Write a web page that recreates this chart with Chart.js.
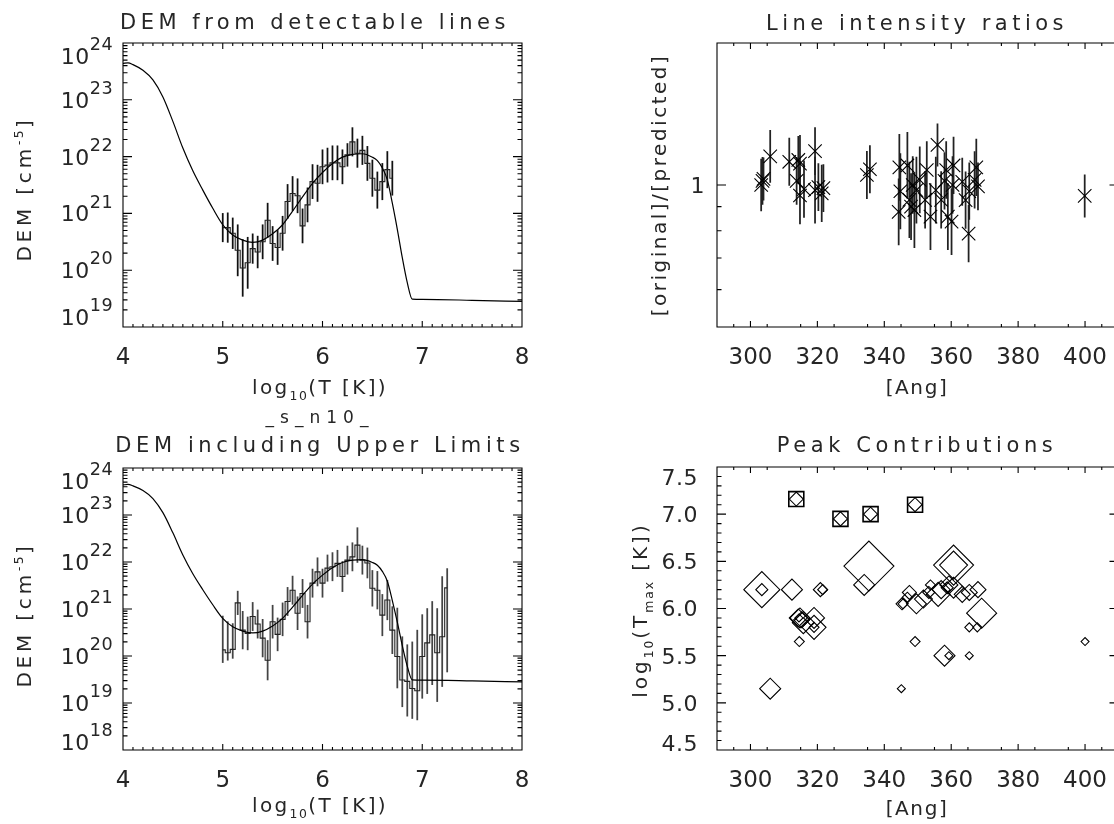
<!DOCTYPE html>
<html>
<head>
<meta charset="utf-8">
<script src="https://cdn.jsdelivr.net/npm/chart.js@4.4.1/dist/chart.umd.min.js"></script>
<style>
  html, body { margin: 0; padding: 0; background: #fff; overflow: hidden; }
  body { width: 1114px; height: 824px; position: relative; }
  canvas { position: absolute; }
</style>
</head>
<body>
<canvas id="c1" style="left:0;top:0"></canvas>
<canvas id="c2" style="left:560px;top:0"></canvas>
<canvas id="c3" style="left:0;top:405px"></canvas>
<canvas id="c4" style="left:560px;top:405px"></canvas>
<script>
const FONT = "'DejaVu Sans', sans-serif";
const INK = '#262626';

// DEM fit curve: log10 T, log10 DEM
const fitT = [4.00, 4.05, 4.10, 4.20, 4.30, 4.40, 4.50, 4.60, 4.70, 4.80, 4.90, 5.00, 5.10, 5.20, 5.30, 5.40, 5.50, 5.60, 5.70, 5.80,
  5.90, 6.00, 6.10, 6.20, 6.30, 6.40, 6.50, 6.55, 6.60, 6.65, 6.70, 6.75, 6.80, 6.85, 6.90, 7.00, 7.50, 8.00];
const fitDem = [23.64, 23.65, 23.62, 23.52, 23.35, 23.05, 22.62, 22.15, 21.75, 21.41, 21.09, 20.80, 20.62, 20.53, 20.49, 20.53, 20.64, 20.80, 21.04, 21.29,
  21.53, 21.72, 21.88, 21.99, 22.04, 22.05, 21.99, 21.93, 21.80, 21.59, 21.18, 20.72, 20.22, 19.78, 19.49, 19.485, 19.47, 19.45];

// DEM from detectable lines (histogram + error in dex)
const binT1 = [5.00, 5.05, 5.10, 5.15, 5.20, 5.25, 5.30, 5.35, 5.40, 5.45, 5.50, 5.55, 5.60, 5.65, 5.70, 5.75, 5.80, 5.85,
  5.90, 5.95, 6.00, 6.05, 6.10, 6.15, 6.20, 6.25, 6.30, 6.35, 6.40, 6.45, 6.50, 6.55, 6.60, 6.65, 6.70];
const dem1 = [20.75, 20.75, 20.65, 20.35, 20.04, 20.13, 20.38, 20.32, 20.50, 20.88, 20.47, 20.40, 20.65, 21.21, 21.35, 21.31, 20.78, 21.15,
  21.56, 21.53, 21.82, 21.85, 21.89, 21.89, 21.82, 22.03, 22.26, 22.06, 22.11, 21.88, 21.62, 21.41, 21.56, 21.77, 21.62];
const err1 = [0.25, 0.26, 0.27, 0.45, 0.5, 0.45, 0.26, 0.28, 0.3, 0.3, 0.3, 0.3, 0.3, 0.3, 0.3, 0.3, 0.3, 0.3,
  0.3, 0.32, 0.3, 0.3, 0.3, 0.3, 0.3, 0.2, 0.25, 0.25, 0.25, 0.3, 0.32, 0.32, 0.32, 0.32, 0.3];

// DEM including upper limits
const binT2 = [5.00, 5.05, 5.10, 5.15, 5.20, 5.25, 5.30, 5.35, 5.40, 5.45, 5.50, 5.55, 5.60, 5.65, 5.70, 5.75, 5.80, 5.85,
  5.90, 5.95, 6.00, 6.05, 6.10, 6.15, 6.20, 6.25, 6.30, 6.35, 6.40, 6.45, 6.50, 6.55, 6.60, 6.65, 6.70,
  6.75, 6.80, 6.85, 6.90, 6.95, 7.00, 7.05, 7.10, 7.15, 7.20, 7.25];
const dem2 = [20.13, 20.07, 20.14, 21.13, 20.55, 20.48, 20.84, 20.68, 20.38, 19.91, 20.73, 20.46, 20.78, 21.16, 21.40, 20.91, 21.33, 20.73,
  21.55, 21.79, 21.55, 21.87, 21.90, 21.97, 21.69, 22.04, 22.11, 22.36, 22.04, 21.98, 21.44, 21.40, 20.87, 21.19, 20.55,
  19.99, 19.49, 19.46, 19.31, 19.26, 19.99, 20.28, 20.45, 20.07, 20.41, 21.45];
const errUp2 = [0.72, 0.66, 0.55, 0.25, 0.4, 0.35, 0.3, 0.3, 0.4, 0.42, 0.35, 0.35, 0.35, 0.3, 0.3, 0.35, 0.3, 0.35,
  0.3, 0.3, 0.3, 0.28, 0.3, 0.28, 0.32, 0.3, 0.3, 0.37, 0.3, 0.32, 0.38, 0.4, 0.44, 0.42, 0.5,
  1.03, 0.92, 0.78, 0.99, 1.29, 0.89, 0.73, 0.71, 0.94, 1.28, 0.41];
const errDn2 = [0.27, 0.16, 0.19, 0.25, 0.4, 0.35, 0.3, 0.3, 0.4, 0.42, 0.35, 0.35, 0.35, 0.3, 0.3, 0.35, 0.3, 0.35,
  0.3, 0.3, 0.3, 0.28, 0.3, 0.28, 0.32, 0.3, 0.3, 0.37, 0.3, 0.32, 0.38, 0.4, 0.44, 0.42, 0.5,
  0.67, 0.57, 0.74, 0.64, 0.62, 0.89, 1.08, 1.06, 1.04, 1.06, 1.79];

// line intensity ratios
const ratioWave = [303.2, 303.6, 303.9, 305.9, 311.6, 313.8, 314.3, 314.8, 314.8, 316.0, 319.3, 319.3, 320.3, 321.3, 321.8,
  334.8, 335.7, 344.3, 344.5, 344.8, 346.9, 347.5, 348.0, 348.5, 349.0, 349.6, 350.6, 352.2, 352.7, 353.8,
  355.4, 355.9, 357.0, 358.0, 358.5, 359.0, 360.1, 360.4, 360.7, 363.3, 364.3, 365.2, 365.4, 367.0, 367.5, 368.0, 399.9];
const ratioVal = [1.00, 1.02, 1.03, 1.15, 1.12, 1.02, 1.13, 1.11, 0.95, 0.98, 1.18, 0.975, 0.99, 0.96, 0.985,
  1.05, 1.08, 0.877, 1.09, 0.97, 1.10, 0.93, 0.90, 1.00, 0.885, 0.975, 1.025, 0.93, 1.076, 0.857,
  0.975, 1.216, 0.93, 1.02, 1.076, 0.857, 0.836, 1.00, 1.10, 1.016, 0.929, 0.789, 0.97, 1.025, 1.09, 0.993, 0.948];
const ratioErr = [0.055, 0.05, 0.045, 0.055, 0.05, 0.05, 0.05, 0.06, 0.06, 0.06, 0.05, 0.07, 0.05, 0.06, 0.05,
  0.05, 0.05, 0.07, 0.07, 0.08, 0.07, 0.08, 0.07, 0.06, 0.08, 0.07, 0.07, 0.06, 0.06, 0.07,
  0.07, 0.045, 0.06, 0.06, 0.06, 0.07, 0.07, 0.06, 0.06, 0.05, 0.06, 0.06, 0.06, 0.06, 0.06, 0.05, 0.045];

// peak contributions (diamond size = relative contribution)
const peakWave = [303.4, 303.4, 305.9, 312.4, 313.7, 314.3, 314.8, 315.3, 315.8, 314.6, 314.5, 319.0, 319.0, 319.0, 320.9, 321.6,
  326.9, 335.9, 335.4, 334.0, 345.1, 345.3, 345.6, 347.5, 346.9, 349.2, 349.2, 349.6, 351.7, 353.3, 353.8, 356.1,
  357.0, 358.0, 359.3, 359.3, 358.8, 360.7, 360.7, 360.7, 363.3, 365.4, 365.4, 365.4, 368.0, 367.8, 369.1, 400.0];
const peakT = [6.20, 6.20, 5.15, 6.20, 7.16, 5.90, 5.90, 5.88, 5.85, 5.65, 5.90, 5.90, 5.80, 5.80, 6.20, 6.20,
  6.95, 7.00, 6.45, 6.25, 5.15, 6.05, 6.05, 6.17, 6.12, 7.10, 5.65, 6.05, 6.10, 6.17, 6.25, 6.15,
  6.20, 5.50, 5.50, 6.25, 6.22, 6.46, 6.46, 6.22, 6.15, 6.17, 5.80, 5.50, 6.20, 5.80, 5.95, 5.65];
const peakSize = [18, 6, 10.5, 10.5, 7, 9, 10, 8, 11, 5, 4, 10.5, 12, 5, 7, 5,
  7, 7, 25, 10.5, 4, 6, 5, 7, 5, 7, 5, 10, 9, 6, 5, 12,
  9, 10.5, 4, 9, 6, 20, 14, 10.5, 8, 8, 4.5, 4, 8, 4.5, 15, 4];
const boxWave = [313.7, 326.9, 335.9, 349.2];
const boxT = [7.16, 6.95, 7.00, 7.10];

// ticks and labels
const tTicks = [4, 5, 6, 7, 8];
const tLabels = ['4', '5', '6', '7', '8'];
const waveTicks = [300, 320, 340, 360, 380, 400];
const waveLabels = ['300', '320', '340', '360', '380', '400'];
const dem1Exp = [19, 20, 21, 22, 23, 24];
const dem2Exp = [18, 19, 20, 21, 22, 23, 24];
const ratioTicks = [1];
const ratioLabels = ['1'];
const peakTicks = [4.5, 5.0, 5.5, 6.0, 6.5, 7.0, 7.5];
const peakLabels = ['4.5', '5.0', '5.5', '6.0', '6.5', '7.0', '7.5'];

function minorSteps(a, b, d, every) {
  const out = [];
  const n = Math.round((b - a) / d);
  for (let i = 1; i < n; i++) if (i % every) out.push(+(a + i * d).toFixed(4));
  return out;
}
function logMinor(e0, e1) {
  const out = [];
  for (let e = e0; e < e1; e++) for (let k = 2; k <= 9; k++) out.push(k * 10 ** e);
  return out;
}

// small rich-text helper: {_sub} and {^sup}
function rich(ctx, s, x, y, size, opt = {}) {
  const sc = opt.sc || 0.62, ls = opt.ls || 0;
  const segs = [];
  s.split(/(\{[_^][^}]*\})/).forEach(p => {
    if (!p) return;
    const m = p.match(/^\{([_^])(.*)\}$/);
    segs.push(m ? { t: m[2], k: m[1] } : { t: p, k: '' });
  });
  ctx.save();
  ctx.translate(x, y);
  if (opt.rot) ctx.rotate(opt.rot);
  ctx.fillStyle = INK;
  ctx.textAlign = 'left';
  ctx.textBaseline = 'alphabetic';
  let w = 0;
  for (const g of segs) {
    g.size = g.k ? size * sc : size;
    ctx.font = `${g.size}px ${FONT}`;
    ctx.letterSpacing = (g.k ? ls * sc : ls) + 'px';
    g.w = ctx.measureText(g.t).width;
    w += g.w;
  }
  let cx = opt.align === 'right' ? -w : -w / 2;
  for (const g of segs) {
    ctx.font = `${g.size}px ${FONT}`;
    ctx.letterSpacing = (g.k ? ls * sc : ls) + 'px';
    const dy = g.k === '_' ? size * 0.3 : g.k === '^' ? -size * (opt.up || 0.42) : 0;
    ctx.fillText(g.t, cx, size * 0.36 + dy);
    cx += g.w;
  }
  ctx.restore();
}

// text specs are [text, x, y, letterSpacing] in canvas pixels
const specs = {
  c1: {
    w: 560, h: 405, box: { l: 123, t: 43, r: 522, b: 327 },
    xMajor: tTicks, xMinor: minorSteps(4, 8, 0.1, 10),
    yMajor: dem1Exp.map(e => 10 ** e), yMinor: logMinor(19, 24),
    yLabels: dem1Exp.map(e => '10{^' + e + '}'), labGap: 10, clampT: 13, clampB: 10,
    title: ['DEM from detectable lines', 315, 21, 4.5], xTitle: ['log{_10}(T [K])', 320, 387, 2.4],
    yTitle: ['DEM [cm{^-5}]', 24, 189, 3.8]
  },
  c2: {
    w: 600, h: 405, box: { l: 157, t: 43, r: 558.5, b: 327 },
    xMajor: waveTicks, xMinor: minorSteps(290, 410, 5, 4),
    yMajor: ratioTicks, yMinor: [0.6, 0.7, 0.8, 0.9],
    yLabels: ratioLabels, labGap: 12, clampT: 10, clampB: 8,
    title: ['Line intensity ratios', 357, 22, 4.5], xTitle: ['[Ang]', 357, 387, 1.6],
    yTitle: ['[original]/[predicted]', 99, 185, 2.5]
  },
  c3: {
    w: 560, h: 419, box: { l: 123, t: 63, r: 522, b: 345 },
    xMajor: tTicks, xMinor: minorSteps(4, 8, 0.1, 10),
    yMajor: dem2Exp.map(e => 10 ** e), yMinor: logMinor(18, 24),
    yLabels: dem2Exp.map(e => '10{^' + e + '}'), labGap: 10, clampT: 13, clampB: 8,
    title: ['DEM including Upper Limits', 320, 39, 4.6], sub: ['_s_n10_', 320, 12, 6],
    xTitle: ['log{_10}(T [K])', 320, 400, 2.4], yTitle: ['DEM [cm{^-5}]', 24, 210, 3.8]
  },
  c4: {
    w: 600, h: 419, box: { l: 157, t: 62, r: 558.5, b: 345 },
    xMajor: waveTicks, xMinor: minorSteps(290, 410, 5, 4),
    yMajor: peakTicks, yMinor: minorSteps(4.5, 7.5, 0.1, 5),
    yLabels: peakLabels, labGap: 19, clampT: 10, clampB: 7,
    title: ['Peak Contributions', 357, 39, 4.6], xTitle: ['[Ang]', 357, 403, 1.6],
    yTitle: ['log{_10}(T{_max} [K])', 80, 205, 3]
  }
};

// IDL-like frame: box with inward ticks on all sides, plus texts
const idlFrame = {
  id: 'idlFrame',
  afterDraw(chart) {
    const o = specs[chart.canvas.id];
    const { ctx, chartArea: a } = chart;
    const sx = chart.scales.x, sy = chart.scales.y;
    ctx.save();
    ctx.strokeStyle = '#000';
    ctx.lineWidth = 1.1;
    ctx.beginPath();
    ctx.rect(a.left, a.top, a.right - a.left, a.bottom - a.top);
    [[o.xMajor, 6], [o.xMinor, 3]].forEach(([vals, len]) => vals.forEach(v => {
      const p = sx.getPixelForValue(v);
      ctx.moveTo(p, a.bottom); ctx.lineTo(p, a.bottom - len);
      ctx.moveTo(p, a.top); ctx.lineTo(p, a.top + len);
    }));
    [[o.yMajor, 9], [o.yMinor, 4.5]].forEach(([vals, len]) => vals.forEach(v => {
      const p = sy.getPixelForValue(v);
      ctx.moveTo(a.left, p); ctx.lineTo(a.left + len, p);
      ctx.moveTo(a.right, p); ctx.lineTo(a.right - len, p);
    }));
    ctx.stroke();

    o.yMajor.forEach((v, i) => {
      let p = sy.getPixelForValue(v);
      p = Math.max(a.top + o.clampT, Math.min(a.bottom - o.clampB, p));
      rich(ctx, o.yLabels[i], a.left - o.labGap, p, 22, { align: 'right', sc: 0.8, up: 0.62, ls: 0.5 });
    });
    const t = (s, size, extra) => rich(ctx, s[0], s[1], s[2], size, Object.assign({ ls: s[3] }, extra));
    t(o.title, 21);
    if (o.sub) t(o.sub, 17);
    t(o.xTitle, 20);
    t(o.yTitle, 20, { rot: -Math.PI / 2 });
    ctx.restore();
  }
};

function xScale(min, max, ticks, labels) {
  return {
    type: 'linear', min, max, offset: false,
    grid: { display: false }, border: { display: false },
    afterFit: s => { s.height = 40; },
    afterBuildTicks: s => { s.ticks = ticks.map(v => ({ value: v })); },
    ticks: {
      autoSkip: false, maxRotation: 0, padding: 9, color: INK,
      font: { family: FONT, size: 23 },
      callback: (v, i) => labels[i]
    }
  };
}

function panel(id, datasets, xs, ys) {
  const s = specs[id];
  const cv = document.getElementById(id);
  cv.width = s.w; cv.height = s.h;
  return new Chart(cv, {
    type: 'scatter',
    data: { datasets },
    options: {
      responsive: false, animation: false, events: [],
      layout: { padding: { left: s.box.l, top: s.box.t, right: s.w - s.box.r, bottom: s.h - s.box.b - 40 } },
      plugins: { legend: { display: false }, tooltip: { enabled: false } },
      scales: { x: xs, y: ys }
    },
    plugins: [idlFrame]
  });
}

const errBars = (xs, lo, hi, color) => ({
  type: 'bar', data: xs.map((x, i) => ({ x, y: [lo[i], hi[i]] })),
  backgroundColor: color, borderWidth: 0, barThickness: 1.1
});
const fitLine = () => ({
  type: 'line', data: fitT.map((t, i) => ({ x: t, y: 10 ** fitDem[i] })),
  borderColor: '#000', borderWidth: 1.2, pointRadius: 0, cubicInterpolationMode: 'monotone'
});
const histLine = (xs, v) => ({
  type: 'line', data: xs.map((t, i) => ({ x: t, y: 10 ** v[i] })),
  borderColor: '#222', borderWidth: 1.1, pointRadius: 0, stepped: 'middle'
});

panel('c1', [
  fitLine(),
  histLine(binT1, dem1),
  errBars(binT1, dem1.map((d, i) => 10 ** (d - err1[i])), dem1.map((d, i) => 10 ** (d + err1[i])), '#111')
], xScale(4, 8, tTicks, tLabels), { type: 'logarithmic', min: 1e19, max: 1e24, display: false });

panel('c3', [
  fitLine(),
  histLine(binT2, dem2),
  errBars(binT2, dem2.map((d, i) => 10 ** (d - errDn2[i])), dem2.map((d, i) => 10 ** (d + errUp2[i])), '#444')
], xScale(4, 8, tTicks, tLabels), { type: 'logarithmic', min: 1e18, max: 1e24, display: false });

panel('c2', [
  {
    type: 'scatter', data: ratioWave.map((w, i) => ({ x: w, y: ratioVal[i] })),
    pointStyle: 'crossRot', pointRadius: 9.5, borderColor: '#000', borderWidth: 1.1
  },
  errBars(ratioWave, ratioVal.map((r, i) => r / 10 ** ratioErr[i]), ratioVal.map((r, i) => r * 10 ** ratioErr[i]), '#222')
], xScale(290, 410, waveTicks, waveLabels), { type: 'logarithmic', min: 0.5, max: 2, display: false });

panel('c4', [
  {
    type: 'scatter', data: peakWave.map((w, i) => ({ x: w, y: peakT[i] })),
    pointStyle: 'rectRot', pointRadius: peakSize, borderColor: '#000', borderWidth: 1.1,
    backgroundColor: 'rgba(0,0,0,0)'
  },
  {
    type: 'scatter', data: boxWave.map((w, i) => ({ x: w, y: boxT[i] })),
    pointStyle: 'rect', pointRadius: 10.6, borderColor: '#000', borderWidth: 1.6,
    backgroundColor: 'rgba(0,0,0,0)'
  }
], xScale(290, 410, waveTicks, waveLabels), { type: 'linear', min: 4.5, max: 7.5, display: false });
</script>
</body>
</html>
